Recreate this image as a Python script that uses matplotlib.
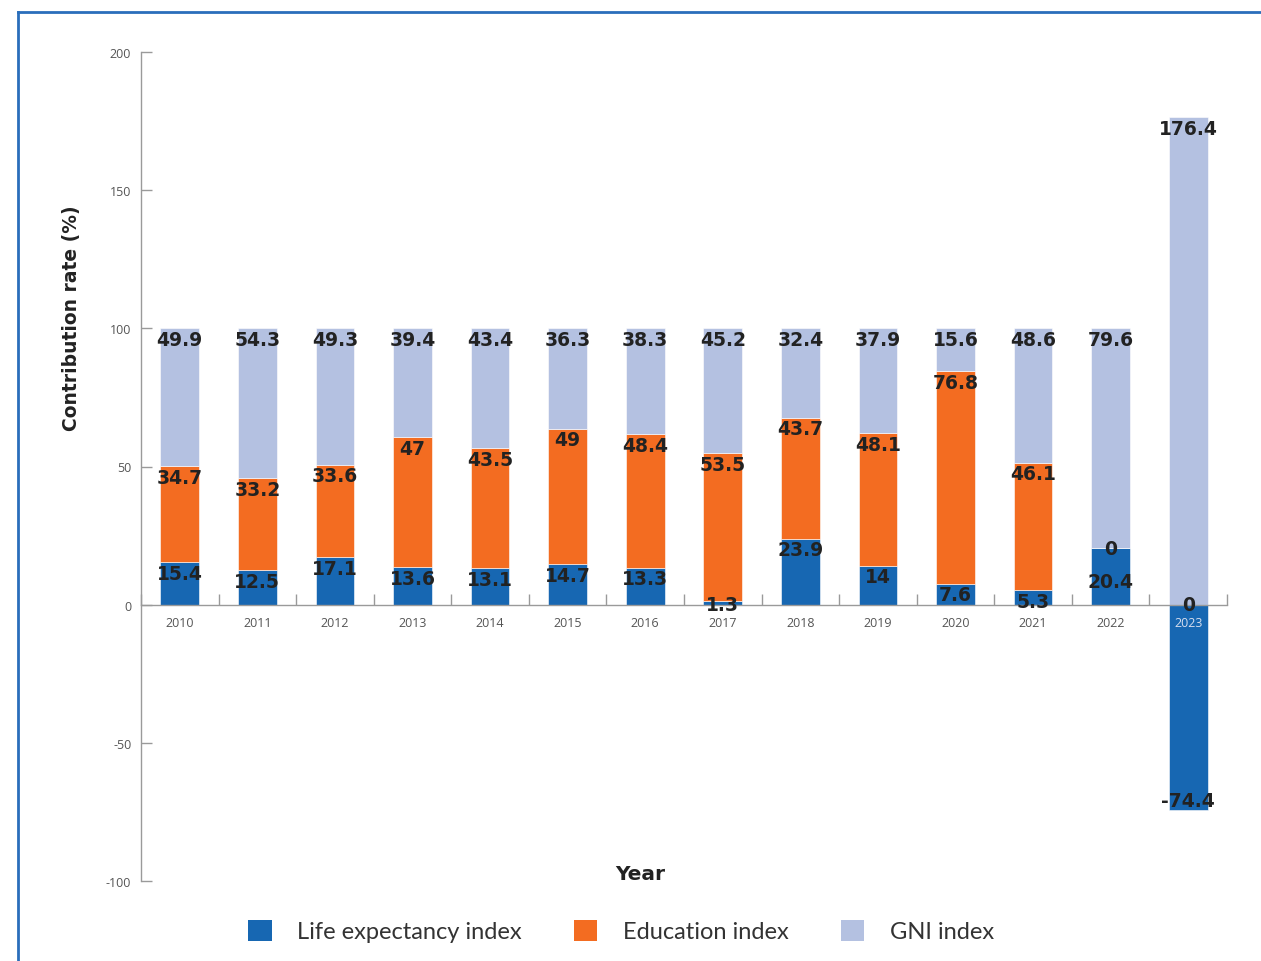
import numpy as np
import matplotlib.pyplot as plt
from matplotlib.patches import Patch
from matplotlib.lines import Line2D

plt.rcParams["axes.unicode_minus"] = False

# data
years = ["2010", "2011", "2012", "2013", "2014", "2015", "2016",
         "2017", "2018", "2019", "2020", "2021", "2022", "2023"]
life = [15.4, 12.5, 17.1, 13.6, 13.1, 14.7, 13.3, 1.3, 23.9, 14, 7.6, 5.3, 20.4, -74.4]
education = [34.7, 33.2, 33.6, 47, 43.5, 49, 48.4, 53.5, 43.7, 48.1, 76.8, 46.1, 0, 0]
gni = [49.9, 54.3, 49.3, 39.4, 43.4, 36.3, 38.3, 45.2, 32.4, 37.9, 15.6, 48.6, 79.6, 176.4]

names = ["Life expectancy index", "Education index", "GNI index"]
colors = ["#1767b2", "#f36c21", "#b4c1e1"]

W, H = 1261, 962
fig = plt.figure(figsize=(W / 100, H / 100), dpi=100)
ax = fig.add_axes([141 / W, 1 - 882 / H, 1086 / W, 829 / H])

x = np.arange(len(years))
series = [np.array(life, float), np.array(education, float), np.array(gni, float)]

# echarts-like stacking: positives stack upward, negatives downward
pos_base = np.zeros(len(x))
neg_base = np.zeros(len(x))
segments = []  # (xi, value, start, end)
for vals, col in zip(series, colors):
    bottom = np.where(vals >= 0, pos_base, neg_base)
    ax.bar(x, vals, bottom=bottom, width=0.5, color=col,
           edgecolor="#ffffff", linewidth=0.4, zorder=1)
    for i, v in enumerate(vals):
        segments.append((i, v, bottom[i], bottom[i] + v))
    pos_base = pos_base + np.where(vals >= 0, vals, 0)
    neg_base = neg_base + np.where(vals < 0, vals, 0)

ax.set_xlim(-0.5, len(x) - 0.5)
ax.set_ylim(-100, 200)

# labels: inside the end of each segment, pushed apart when they collide
fig.canvas.draw()
to_px = ax.transData
from_px = ax.transData.inverted()
per_bar = {}
for i, v, start, end in segments:
    py = to_px.transform((i, end))[1]
    base = to_px.transform((i, start))[1]
    if v > 0:
        py = max(py - 11, base)
    elif v < 0:
        py += 10
    per_bar.setdefault(i, []).append([py, v])
for i, labs in per_bar.items():
    labs.sort(key=lambda t: -t[0])
    for k in range(1, len(labs)):
        if labs[k - 1][0] - labs[k][0] < 33:
            labs[k][0] = labs[k - 1][0] - 33
    for py, v in labs:
        yd = from_px.transform((0, py))[1]
        ax.text(i, yd, f"{v:g}", ha="center", va="center", fontsize=13.5,
                fontweight="heavy", color="#222222", family="DejaVu Sans", zorder=5)

# axes styling
for s in ["top", "right"]:
    ax.spines[s].set_visible(False)
ax.spines["bottom"].set_position(("data", 0))
ax.spines["left"].set_color("#9a9a9a")
ax.spines["bottom"].set_color("#9a9a9a")
ax.spines["left"].set_linewidth(1)
ax.spines["bottom"].set_linewidth(1)

ax.set_yticks([-100, -50, 0, 50, 100, 150, 200])
ax.tick_params(axis="y", direction="in", length=8, width=1, color="#9a9a9a",
               labelsize=9, labelcolor="#555555", pad=7)
ax.set_xticks(x)
ax.set_xticklabels(years)
ax.set_xticks(np.arange(-0.5, len(x)), minor=True)
ax.tick_params(axis="x", which="major", length=0, pad=8, labelsize=9,
               labelcolor="#555555")
ax.tick_params(axis="x", which="minor", direction="in", length=8, width=1,
               color="#9a9a9a")
for lab in ax.get_xticklabels() + ax.get_yticklabels():
    lab.set_family("Open Sans")
ax.get_xticklabels()[-1].set_color("#d6deef")

ax.set_ylabel("Contribution rate (%)", fontsize=13.5, fontweight="bold",
              color="#222222", family="DejaVu Sans")
ax.yaxis.set_label_coords(-0.055, 0.68)
ax.set_xlabel("Year", fontsize=14.5, fontweight="bold", color="#222222",
              family="DejaVu Sans")
ax.xaxis.set_label_coords(0.46, 0.02)

handles = [Patch(facecolor=c, edgecolor="none") for c in colors]
leg = fig.legend(handles, names, loc="center", bbox_to_anchor=(621 / W, 1 - 932 / H),
                 ncol=3, frameon=False, handlelength=1.0, handleheight=1.0,
                 handletextpad=1.08, columnspacing=2.2,
                 prop={"family": "Lato", "size": 17})
for t in leg.get_texts():
    t.set_color("#333333")

# blue frame around the figure (extends beyond the right and bottom edges)
fig.add_artist(Line2D([18 / W, 18 / W], [0, 1 - 13 / H], color="#2a6ebb", lw=2))
fig.add_artist(Line2D([18 / W, 1], [1 - 13 / H, 1 - 13 / H], color="#2a6ebb", lw=2))

fig.savefig("out.png", dpi=100)
